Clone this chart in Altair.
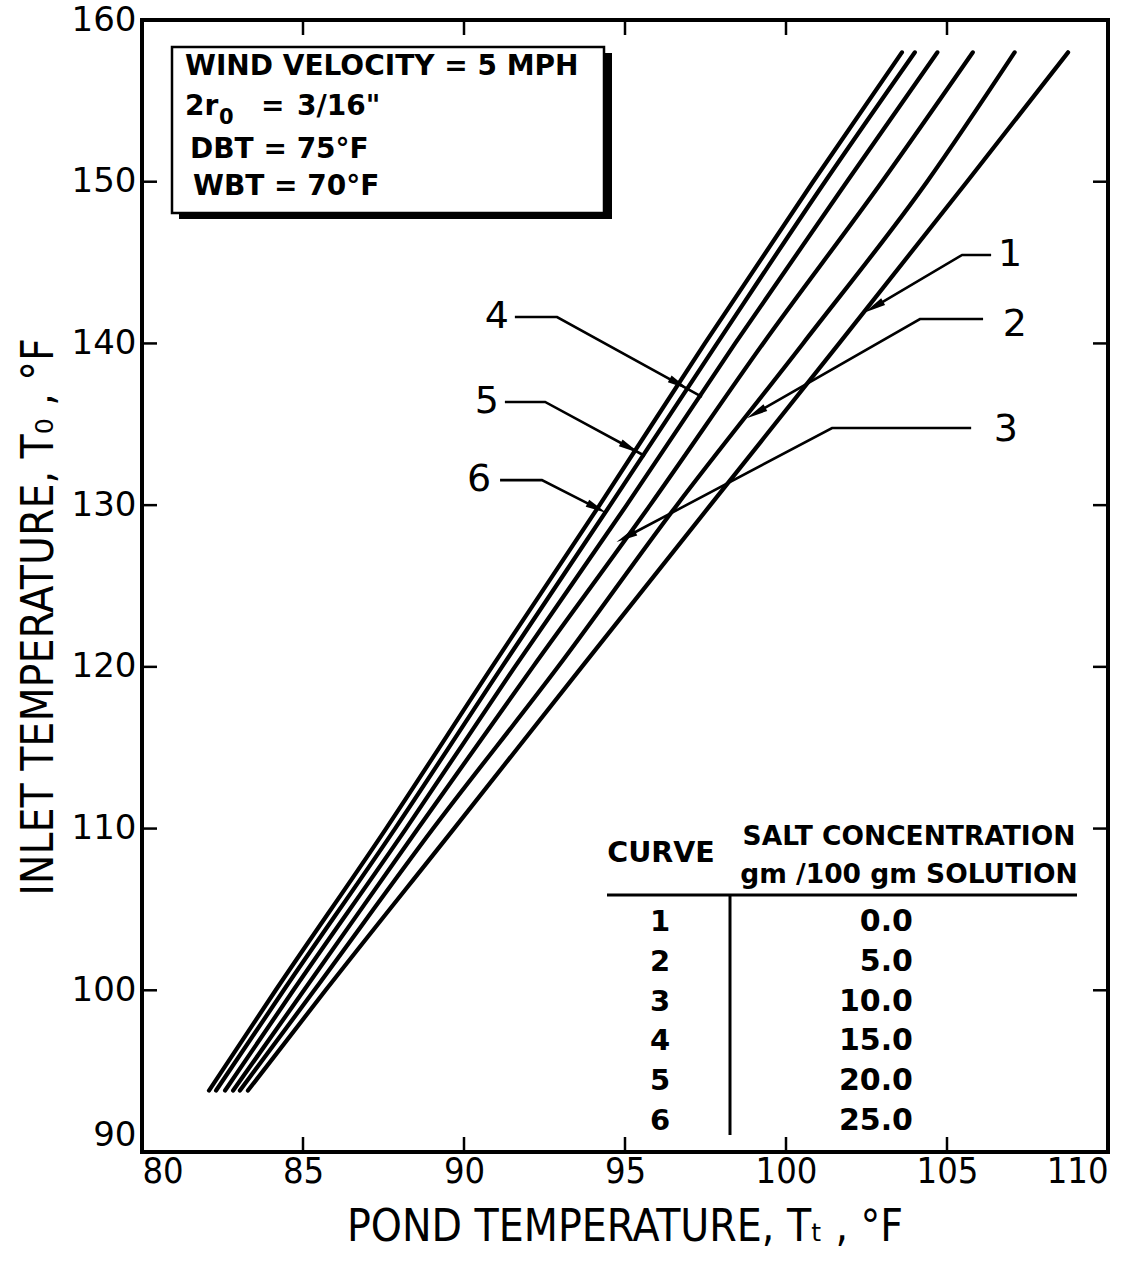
import math
import altair as alt
import pandas as pd

# Inlet temperature levels (°F) at which the curves are read
inlet_levels = [93.8, 100, 110, 120, 130, 140, 150, 158]

# Pond temperature (°F) of each curve at those inlet levels
curve_ids = [1, 2, 3, 4, 5, 6]
salt_conc = ["0.0", "5.0", "10.0", "15.0", "20.0", "25.0"]
pond_c1 = [83.29, 85.70, 89.69, 93.66, 97.65, 101.65, 105.62, 108.76]
pond_c2 = [83.04, 85.35, 89.04, 92.92, 96.61, 100.53, 104.38, 107.10]
pond_c3 = [82.83, 85.03, 88.57, 92.14, 95.78, 99.29, 102.98, 105.80]
pond_c4 = [82.58, 84.70, 88.20, 91.58, 95.05, 98.42, 101.89, 104.70]
pond_c5 = [82.30, 84.40, 87.86, 91.18, 94.54, 97.86, 101.21, 104.00]
pond_c6 = [82.08, 84.15, 87.58, 90.87, 94.21, 97.48, 100.84, 103.60]
pond_by_curve = [pond_c1, pond_c2, pond_c3, pond_c4, pond_c5, pond_c6]

# Axis ticks
x_ticks = [80, 85, 90, 95, 100, 105, 110]
y_ticks = [90, 100, 110, 120, 130, 140, 150, 160]

# Curve-number callouts: label position, leader path (°F), arrowhead point
label_text = ["1", "2", "3", "4", "5", "6"]
label_x = [106.96, 107.11, 106.83, 91.02, 90.71, 90.47]
label_y = [145.47, 141.14, 134.64, 141.63, 136.38, 131.55]
leader_x = [
    [106.37, 105.47, 102.73],
    [106.12, 104.16, 99.07],
    [105.75, 101.43, 95.03],
    [91.58, 92.89, 97.39],
    [91.27, 92.52, 95.62],
    [91.12, 92.42, 94.13],
]
leader_y = [
    [145.47, 145.47, 142.25],
    [141.51, 141.51, 135.70],
    [134.77, 134.77, 128.03],
    [141.63, 141.63, 136.69],
    [136.38, 136.38, 133.04],
    [131.55, 131.55, 129.82],
]
arrow_x = [102.73, 99.07, 95.03, 96.68, 95.16, 94.13]
arrow_y = [142.25, 135.70, 128.03, 137.49, 133.53, 129.82]

W, H = 966, 1132
X_MIN, X_MAX = 80, 110
Y_MIN, Y_MAX = 90, 160
KX = W / (X_MAX - X_MIN)
KY = H / (Y_MAX - Y_MIN)
FONT = "DejaVu Sans"
NARROW = "DejaVu Sans Condensed, Liberation Sans Narrow, DejaVu Sans"

xs = alt.Scale(domain=[X_MIN, X_MAX], nice=False, zero=False)
ys = alt.Scale(domain=[Y_MIN, Y_MAX], nice=False, zero=False)

curves = pd.DataFrame(
    [
        {"curve": cid, "pond": p, "inlet": t, "order": i}
        for cid, pond in zip(curve_ids, pond_by_curve)
        for i, (p, t) in enumerate(zip(pond, inlet_levels))
    ]
)

x_axis = alt.Axis(
    values=x_ticks, ticks=False, domain=False, grid=False, title=None,
    labelFontSize=36, labelFont=NARROW, labelPadding=2, labelColor="black",
    labelFlush=True, labelOverlap=False,
)
y_axis = alt.Axis(
    values=y_ticks, ticks=False, domain=False, grid=False, title=None,
    labelFontSize=34, labelFont=FONT, labelPadding=6, labelColor="black",
    labelFlush=False, labelOverlap=False,
    labelBaseline=alt.condition("datum.value == 90", alt.value("bottom"), alt.value("middle")),
)

lines = alt.Chart(curves).mark_line(
    color="black", strokeWidth=4.2, interpolate="monotone", strokeCap="round"
).encode(
    x=alt.X("pond:Q", scale=xs, axis=x_axis),
    y=alt.Y("inlet:Q", scale=ys, axis=y_axis),
    detail="curve:N",
    order="order:Q",
)

# Inward tick marks on all four sides
xt = pd.DataFrame({"v": x_ticks[1:-1]})
yt = pd.DataFrame({"v": y_ticks[1:-1]})
TL = 15
tick_bottom = alt.Chart(xt).mark_rule(color="black", strokeWidth=2.5).encode(
    x=alt.X("v:Q", scale=xs), y=alt.value(H), y2=alt.value(H - TL))
tick_top = alt.Chart(xt).mark_rule(color="black", strokeWidth=2.5).encode(
    x=alt.X("v:Q", scale=xs), y=alt.value(0), y2=alt.value(TL))
tick_left = alt.Chart(yt).mark_rule(color="black", strokeWidth=2.5).encode(
    y=alt.Y("v:Q", scale=ys), x=alt.value(0), x2=alt.value(TL))
tick_right = alt.Chart(yt).mark_rule(color="black", strokeWidth=2.5).encode(
    y=alt.Y("v:Q", scale=ys), x=alt.value(W), x2=alt.value(W - TL))

# Callout leaders, arrowheads and numbers
leader_rows = []
for k, (lx, ly) in enumerate(zip(leader_x, leader_y)):
    for j, (a, b) in enumerate(zip(lx, ly)):
        leader_rows.append({"id": k, "o": j, "x": a, "y": b})
leaders = alt.Chart(pd.DataFrame(leader_rows)).mark_line(
    color="black", strokeWidth=2.6
).encode(
    x=alt.X("x:Q", scale=xs), y=alt.Y("y:Q", scale=ys),
    detail="id:N", order="o:Q",
)

head_rows = []
for k in range(len(arrow_x)):
    lx, ly = leader_x[k], leader_y[k]
    dx = (lx[2] - lx[1]) * KX
    dy = -(ly[2] - ly[1]) * KY
    ang = math.degrees(math.atan2(dy, dx)) % 360
    head_rows.append({"x": arrow_x[k], "y": arrow_y[k], "ang": ang})
heads = alt.Chart(pd.DataFrame(head_rows)).mark_point(
    shape="M1,0L-1,-0.36L-1,0.36Z", filled=True, color="black", size=460, opacity=1
).encode(
    x=alt.X("x:Q", scale=xs), y=alt.Y("y:Q", scale=ys),
    angle=alt.Angle("ang:Q", scale=None),
)

labels = alt.Chart(
    pd.DataFrame({"x": label_x, "y": label_y, "t": label_text})
).mark_text(font=FONT, fontSize=38, color="black", align="center", baseline="middle").encode(
    x=alt.X("x:Q", scale=xs), y=alt.Y("y:Q", scale=ys), text="t:N"
)

# Conditions box with drop shadow
one = alt.Data(values=[{"a": 1}])
shadow = alt.Chart(one).mark_rect(color="black").encode(
    x=alt.value(37), x2=alt.value(470), y=alt.value(33), y2=alt.value(199))
box = alt.Chart(one).mark_rect(fill="white", stroke="black", strokeWidth=2.5).encode(
    x=alt.value(30), x2=alt.value(462), y=alt.value(27), y2=alt.value(193))


def txt(s, x, y, size=28, align="left", angle=0, font=FONT, weight="normal"):
    return alt.Chart(one).mark_text(
        text=s, font=font, fontSize=size, color="black", align=align,
        baseline="middle", angle=angle, fontWeight=weight,
    ).encode(x=alt.value(x), y=alt.value(y))


box_text = [
    txt("WIND VELOCITY = 5 MPH", 43, 47, weight="bold"),
    txt("2r", 43, 87, weight="bold"),
    txt("0", 77, 98, size=21, weight="bold"),
    txt("=", 119, 87, weight="bold"),
    txt("3/16\"", 155, 87, weight="bold"),
    txt("DBT = 75°F", 48, 130, weight="bold"),
    txt("WBT = 70°F", 51, 167, weight="bold"),
]

# Salt concentration table
table_head = [
    txt("CURVE", 519, 833, size=28.5, align="center", weight="bold"),
    txt("SALT CONCENTRATION", 767, 817, size=26.5, align="center", weight="bold"),
    txt("gm /100 gm SOLUTION", 767, 855, size=26.5, align="center", weight="bold"),
]
hline = alt.Chart(one).mark_rule(color="black", strokeWidth=3).encode(
    x=alt.value(465), x2=alt.value(935), y=alt.value(875))
vline = alt.Chart(one).mark_rule(color="black", strokeWidth=3).encode(
    x=alt.value(588), y=alt.value(875), y2=alt.value(1115))

row_y = [104.22 - 2.46 * i for i in range(len(curve_ids))]
table = pd.DataFrame({"c": [str(c) for c in curve_ids], "s": salt_conc, "y": row_y})
col_curve = alt.Chart(table).mark_text(
    font=FONT, fontSize=29, color="black", align="center", baseline="middle", fontWeight="bold"
).encode(x=alt.value(518), y=alt.Y("y:Q", scale=ys), text="c:N")
col_salt = alt.Chart(table).mark_text(
    font=FONT, fontSize=30, color="black", align="right", baseline="middle", fontWeight="bold"
).encode(x=alt.value(771), y=alt.Y("y:Q", scale=ys), text="s:N")

# Axis titles
x_title = txt("POND TEMPERATURE, T\u209c , °F", 483, 1208, size=44, align="center", font=NARROW)
y_title = txt("INLET TEMPERATURE, T\u2080 , °F", -102, 597, size=44, align="center",
              angle=270, font=NARROW)

chart = alt.layer(
    lines, tick_bottom, tick_top, tick_left, tick_right,
    shadow, box, *box_text,
    leaders, heads, labels,
    *table_head, hline, vline, col_curve, col_salt,
    x_title, y_title,
).properties(
    width=W, height=H,
    autosize=alt.AutoSizeParams(type="none"),
    padding={"left": 142, "top": 20, "right": 40, "bottom": 116},
    background="white",
).configure_view(
    stroke="black", strokeWidth=4
)

chart.save("out.html", embed_options={"renderer": "svg", "actions": False})
